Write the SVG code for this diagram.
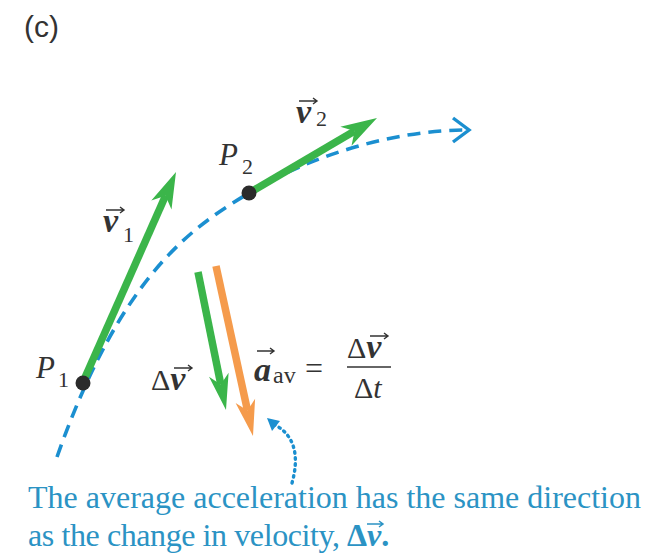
<svg xmlns="http://www.w3.org/2000/svg" width="656" height="553" viewBox="0 0 656 553">
<defs>
<style>
.path{fill:none;stroke:#1b8fd0;stroke-width:3.6;stroke-dasharray:13 8}
.green{stroke:#3bb54a;fill:none;stroke-width:7.5}
.greenf{fill:#3bb54a}
.orange{stroke:#f59b4c;fill:none;stroke-width:7.5}
.orangef{fill:#f59b4c}
.lbl{font-family:"Liberation Serif",serif;fill:#333}
.vec{font-weight:bold;font-style:italic;font-size:34px}
.it{font-style:italic}
.sub{font-size:22px}
.over{stroke:#333;stroke-width:1.4;fill:none}
.note{font-family:"Liberation Serif",serif;font-size:32px;fill:#2b93c4}
</style>
</defs>
<rect width="656" height="553" fill="#fff"/>
<text x="24" y="37" font-family="Liberation Sans, sans-serif" font-size="30" fill="#333">(c)</text>

<g id="connectors">
<path id="trajectory" class="path" d="M57,457 C123.2,268.2 198,224.2 249,193 C308.5,156.6 392,130 467,130"/>
<path d="M453,118 L469,130 L453,142" fill="none" stroke="#1b8fd0" stroke-width="3.4"/>
<path d="M292,483 C299,458 296,436 275,425" fill="none" stroke="#1b8fd0" stroke-width="3.4" stroke-dasharray="1.5 4.5" stroke-linecap="round"/>
<polygon points="267,418 280,421 272,431" fill="#1b8fd0"/>
</g>

<g id="v1">
<line class="green" x1="83" y1="382" x2="165.5" y2="195.8"/>
<polygon class="greenf" points="176,172 171.5,209.4 165.5,195.8 151.3,200.4"/>
</g>
<g id="v2">
<line class="green" x1="249" y1="193" x2="354.6" y2="131.1"/>
<polygon class="greenf" points="377,118 351.5,145.7 354.6,131.1 340.3,126.7"/>
</g>
<g id="dv">
<line class="green" x1="198" y1="272" x2="220.8" y2="384.5"/>
<polygon class="greenf" points="226,410 209,376.7 220.8,384.5 228.6,372.7"/>
</g>
<g id="aav">
<line class="orange" x1="216" y1="266" x2="247.5" y2="410.6"/>
<polygon class="orangef" points="253,436 235.6,402.9 247.5,410.6 255.1,398.7"/>
</g>

<g id="P1">
<circle cx="83" cy="383" r="7.5" fill="#2b2b2b"/>
<text class="lbl it" x="36" y="378" font-size="31">P</text>
<text class="lbl sub" x="58" y="387">1</text>
</g>
<g id="P2">
<circle cx="249" cy="193" r="7.5" fill="#2b2b2b"/>
<text class="lbl it" x="219" y="165" font-size="31">P</text>
<text class="lbl sub" x="242" y="174">2</text>
</g>

<g id="label-v1">
<text class="lbl vec" x="103" y="232">v</text>
<path class="over" d="M106,210 H124 M120,207 L124,210 L120,213"/>
<text class="lbl sub" x="123" y="242">1</text>
</g>
<g id="label-v2">
<text class="lbl vec" x="296" y="123">v</text>
<path class="over" d="M299,101 H317 M313,98 L317,101 L313,104"/>
<text class="lbl sub" x="316" y="126">2</text>
</g>
<g id="label-dv">
<text class="lbl" x="151" y="390" font-size="30">Δ<tspan class="vec">v</tspan></text>
<path class="over" d="M174,368 H192 M188,365 L192,368 L188,371"/>
</g>
<g id="label-aav">
<text class="lbl vec" x="254" y="381">a</text>
<path class="over" d="M257,351 H274 M270,348 L274,351 L270,354"/>
<text class="lbl" x="273" y="383" font-size="24">av</text>
<text class="lbl" x="305" y="379" font-size="32">=</text>
<text class="lbl" x="347" y="358" font-size="30">Δ<tspan class="vec">v</tspan></text>
<path class="over" d="M370,336 H388 M384,333 L388,336 L384,339"/>
<line x1="347" y1="367" x2="391" y2="367" stroke="#333" stroke-width="1.6"/>
<text class="lbl" x="354" y="398" font-size="30">Δ<tspan class="it">t</tspan></text>
</g>

<g id="note">
<text class="note" x="28" y="508">The average acceleration has the same direction</text>
<text class="note" x="28" y="546" textLength="312" lengthAdjust="spacing">as the change in velocity,</text>
<text class="note" x="347" y="546" font-weight="bold">Δ<tspan font-style="italic">v</tspan>.</text>
<path d="M367,524 H383 M379,521 L383,524 L379,527" stroke="#2b93c4" stroke-width="1.5" fill="none"/>
</g>
</svg>
